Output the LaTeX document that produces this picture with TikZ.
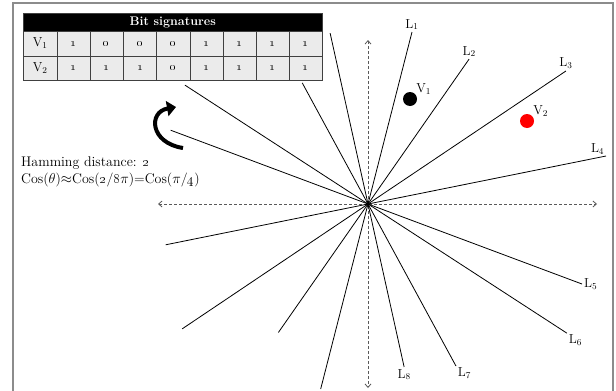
\documentclass[tikz,border=0pt]{standalone}
\usetikzlibrary{arrows.meta,positioning}
\tikzset{
  >=stealth,
  frame/.style ={draw=black!45, line width=1.3pt},
  ray/.style   ={draw, line width=0.8pt},
  axis/.style  ={{Straight Barb[length=3.5pt,width=6pt]}-{Straight Barb[length=3.5pt,width=6pt]}, densely dashed, black!65, line width=0.8pt},
  cell/.style  ={draw=black!75, fill=black!8, minimum width=33.125pt, minimum height=24.5pt, inner sep=0pt, anchor=north west, font=\fontsize{13}{15}\selectfont},
  head/.style  ={draw=black!75, fill=black, text=white, minimum width=299pt, minimum height=18pt, inner sep=0pt, anchor=north west, font=\fontsize{12.5}{14}\selectfont\bfseries},
  lab/.style   ={font=\fontsize{13}{15}\selectfont, inner sep=1pt},
  txt/.style   ={font=\fontsize{14}{17}\selectfont, inner sep=1pt},
  dot/.style   ={circle, minimum size=14pt, inner sep=0pt},
}
\begin{document}
\begin{tikzpicture}[x=1pt, y=-1pt]
  \useasboundingbox (0,0) rectangle (616,391);
  \draw[frame] (13,392) -- (13,3) -- (613,3) -- (613,392);

  % bit table
  \node[head] (hd) at (23,13) {Bit signatures};
  \foreach \r/\bits in {1/{1,0,0,0,1,1,1,1}, 2/{1,1,1,0,1,1,1,1}} {
    \node[cell, minimum width=34pt] (v\r) at (23,31+24.5*\r-24.5) {V$_{\r}$};
    \foreach \b [count=\c] in \bits
      \node[cell] (v\r c\c) at (57+33.125*\c-33.125,31+24.5*\r-24.5) {\oldstylenums{\b}};
  }

  % axes
  \coordinate (o) at (368,204);
  \coordinate (xl) at (158,204);
  \coordinate (xr) at (597,204);
  \coordinate (yt) at (368,40);
  \coordinate (yb) at (368,388);
  \draw[axis] (xl) -- (xr);
  \draw[axis] (yt) -- (yb);

  % hyperplanes
  \foreach \n/\ang/\len/\opp/\pos in {1/75.65/177.5/191/above, 2/55.1/176.7/156.7/above,
      3/33.9/238.5/223.9/above, 4/11.4/242.8/206.5/above left, 5/-20.5/228.5/210.7/right,
      6/-33/237.2/218.3/below right, 7/-61.5/184.4/137.8/below right, 8/-77.5/166.9/175/below} {
    \path (o) ++(\ang:\len pt) coordinate (e\n);
    \path (o) ++(\ang+180:\opp pt) coordinate (f\n);
    \draw[ray] (f\n) -- (e\n);
    \node[lab, \pos=1pt of e\n] (l\n) {L$_{\n}$};
  }

  % vectors
  \node[dot, fill=black] (p1) at (410,99) {};
  \node[lab, above right=-2pt and 0pt of p1] (t1) {V$_1$};
  \node[dot, fill=red] (p2) at (527,121) {};
  \node[lab, above right=-2pt and 0pt of p2] (t2) {V$_2$};

  % rotation arrow
  \coordinate (r0) at (183,148);
  \coordinate (r1) at (176,107);
  \draw[line width=4pt, -{Triangle[length=9pt,width=15pt]}] (r0) .. controls (150,143) and (148,112) .. (r1);

  \node[txt, anchor=west, align=left] (hm) at (20,172) {Hamming distance: \oldstylenums{2}\\Cos($\theta$)$\approx$Cos(\oldstylenums{2}/\oldstylenums{8}$\pi$)=Cos($\pi$/\oldstylenums{4})};
\end{tikzpicture}
\end{document}
